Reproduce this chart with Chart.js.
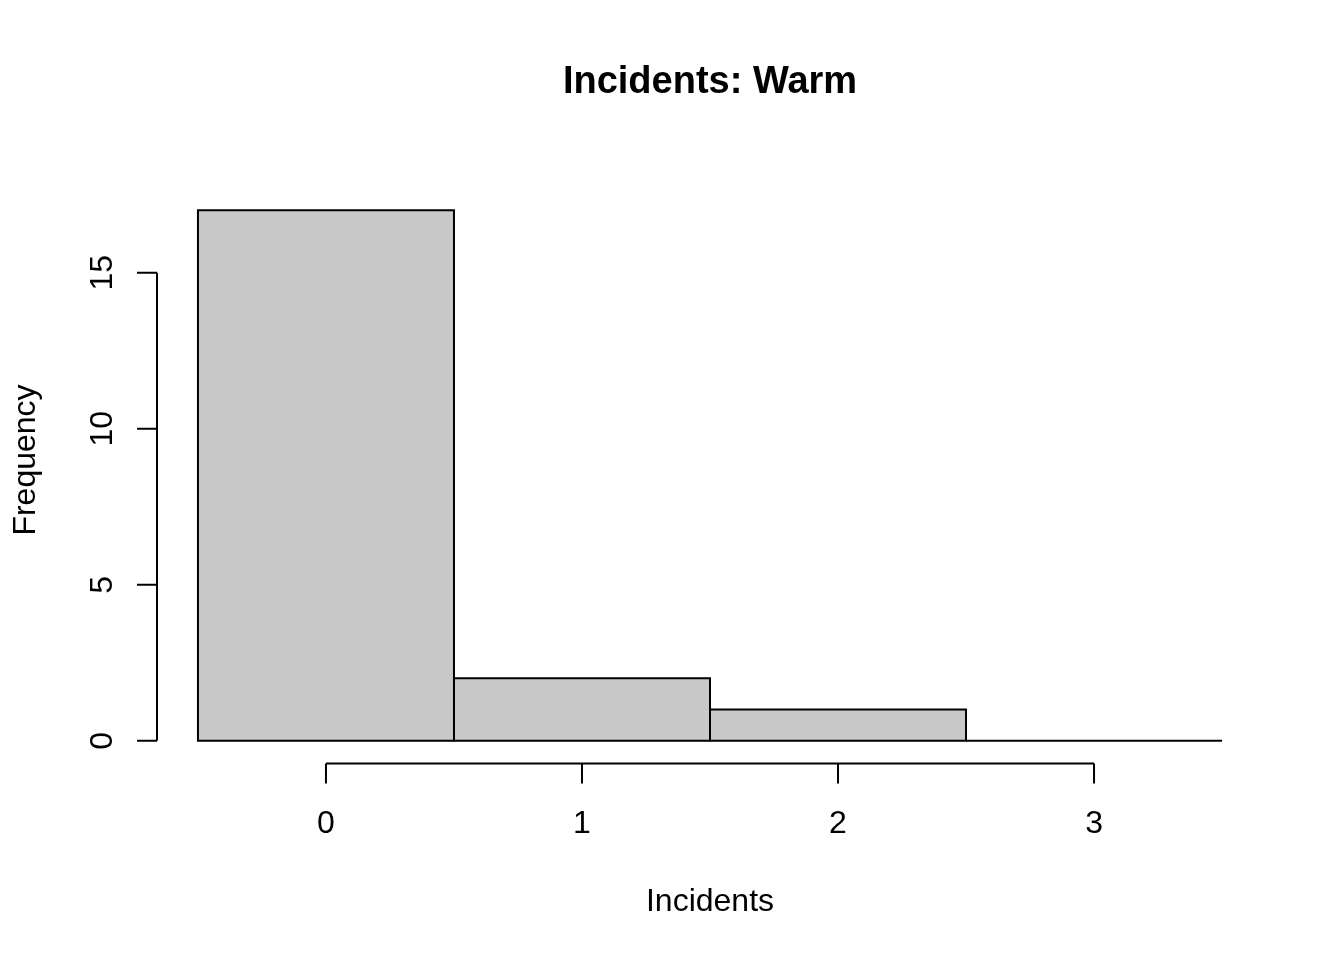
<!DOCTYPE html>
<html>
<head>
<meta charset="utf-8">
<script src="https://cdn.jsdelivr.net/npm/chart.js@4/dist/chart.umd.min.js"></script>
<style>
  html, body { margin: 0; padding: 0; background: #ffffff; }
  #wrap { width: 1344px; height: 960px; }
</style>
</head>
<body>
<div id="wrap"><canvas id="c" width="1344" height="960"></canvas></div>
<script>
const categories = [0, 1, 2, 3];
const frequencies = [17, 2, 1, 0];
const xTickValues = [0, 1, 2, 3];
const yTickValues = [0, 5, 10, 15];
const titleText = "Incidents: Warm";
const xLabelText = "Incidents";
const yLabelText = "Frequency";

const FONT = "'Liberation Sans', Arial, Helvetica, sans-serif";

const rBasePlot = {
  id: 'rBasePlot',
  afterDatasetsDraw(chart) {
    const ctx = chart.ctx;
    const xs = chart.scales.x, ys = chart.scales.y;
    ctx.save();
    ctx.strokeStyle = '#000';
    ctx.lineWidth = 2;
    // bar outlines (shared edges like R's rect)
    const meta = chart.getDatasetMeta(0);
    meta.data.forEach(bar => {
      const p = bar.getProps(['x', 'y', 'base', 'width'], true);
      const top = Math.min(p.y, p.base);
      const h = Math.abs(p.base - p.y);
      ctx.beginPath();
      ctx.rect(p.x - p.width / 2, top, p.width, h);
      ctx.stroke();
    });
    // x axis
    const axY = ys.bottom + 1.5;
    ctx.beginPath();
    ctx.moveTo(xs.getPixelForValue(xTickValues[0]), axY);
    ctx.lineTo(xs.getPixelForValue(xTickValues[xTickValues.length - 1]), axY);
    xTickValues.forEach(v => {
      const px = xs.getPixelForValue(v);
      ctx.moveTo(px, axY);
      ctx.lineTo(px, axY + 20);
    });
    ctx.stroke();
    ctx.fillStyle = '#000';
    ctx.font = '32px ' + FONT;
    ctx.textAlign = 'center';
    ctx.textBaseline = 'alphabetic';
    xTickValues.forEach(v => {
      ctx.fillText(String(v), xs.getPixelForValue(v), 833);
    });
    // y axis
    const axX = xs.left;
    ctx.beginPath();
    ctx.moveTo(axX, ys.getPixelForValue(yTickValues[0]));
    ctx.lineTo(axX, ys.getPixelForValue(yTickValues[yTickValues.length - 1]));
    yTickValues.forEach(v => {
      const py = ys.getPixelForValue(v);
      ctx.moveTo(axX, py);
      ctx.lineTo(axX - 20, py);
    });
    ctx.stroke();
    yTickValues.forEach(v => {
      const py = ys.getPixelForValue(v);
      ctx.save();
      ctx.translate(112, py);
      ctx.rotate(-Math.PI / 2);
      ctx.textAlign = 'center';
      ctx.textBaseline = 'alphabetic';
      ctx.fillText(String(v), 0, 0);
      ctx.restore();
    });
    // axis titles
    ctx.textAlign = 'center';
    ctx.fillText(xLabelText, (xs.left + xs.right) / 2, 911);
    ctx.save();
    ctx.translate(35, 460);
    ctx.rotate(-Math.PI / 2);
    ctx.fillText(yLabelText, 0, 0);
    ctx.restore();
    // main title
    ctx.font = 'bold 38px ' + FONT;
    ctx.fillText(titleText, (xs.left + xs.right) / 2, 93);
    ctx.restore();
  }
};

new Chart(document.getElementById('c'), {
  type: 'bar',
  data: {
    datasets: [{
      data: categories.map((c, i) => ({ x: c, y: frequencies[i] })),
      backgroundColor: '#c8c8c8',
      borderWidth: 0,
      barPercentage: 1,
      categoryPercentage: 1
    }]
  },
  options: {
    responsive: false,
    animation: false,
    devicePixelRatio: 1,
    layout: { padding: { left: 157, right: 81, top: 189, bottom: 198 } },
    plugins: { legend: { display: false }, tooltip: { enabled: false }, title: { display: false } },
    scales: {
      x: {
        type: 'linear', min: -0.66, max: 3.66, display: false, offset: false,
        afterBuildTicks(scale) { scale.ticks = xTickValues.map(v => ({ value: v })); }
      },
      y: { type: 'linear', min: -0.68, max: 17.68, display: false }
    }
  },
  plugins: [rBasePlot]
});
</script>
</body>
</html>
